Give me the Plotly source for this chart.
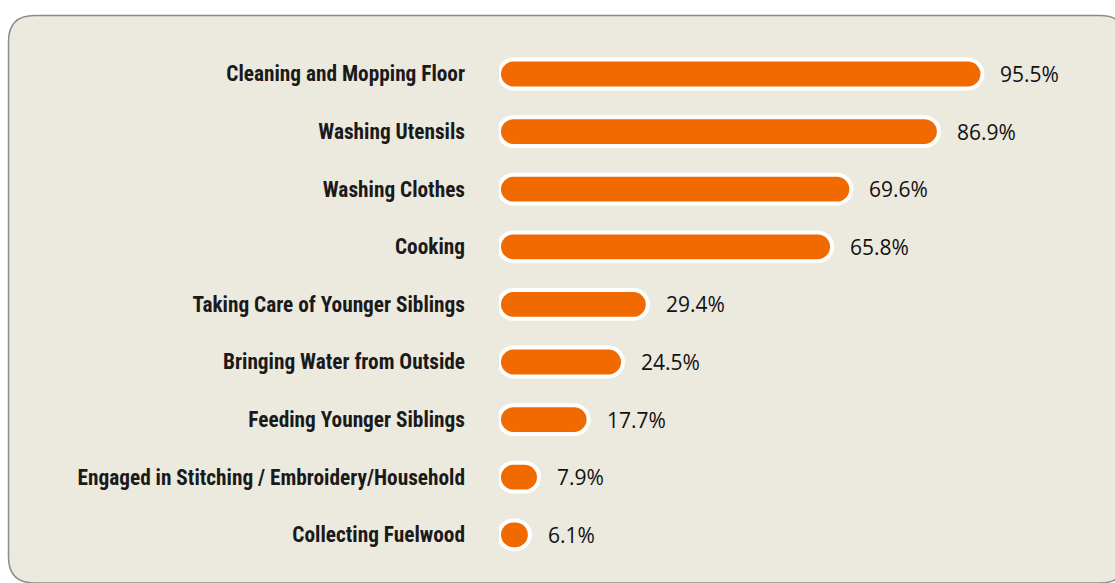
import plotly.graph_objects as go

# Share of girls reporting each household chore (%)
activities = [
    "Cleaning and Mopping Floor",
    "Washing Utensils",
    "Washing Clothes",
    "Cooking",
    "Taking Care of Younger Siblings",
    "Bringing Water from Outside",
    "Feeding Younger Siblings",
    "Engaged in Stitching / Embroidery/Household",
    "Collecting Fuelwood",
]
shares = [95.5, 86.9, 69.6, 65.8, 29.4, 24.5, 17.7, 7.9, 6.1]

ORANGE = "#F06A00"
CARD = "#ECE9DE"
BORDER = "#8C8C8C"
W, H = 1115, 583

fig = go.Figure()

# capsule-shaped bars with a thin white rim
fig.add_trace(go.Bar(
    y=activities,
    x=shares,
    base=[0] * len(shares),
    orientation="h",
    width=0.5,
    marker=dict(color=ORANGE, cornerradius="50%", line=dict(color="white", width=4)),
    hoverinfo="skip",
    showlegend=False,
))

# value labels beside each bar
for name, v in zip(activities, shares):
    fig.add_annotation(
        x=v, y=name, xref="x", yref="y",
        text=f"{v:.1f}%", showarrow=False,
        xanchor="left", xshift=16,
        font=dict(family="Open Sans, Noto Sans, sans-serif", size=21, color="#111111"),
    )

# rounded card behind the chart
def px(x):
    return x / W

def py(y):
    return 1 - y / H

x0, x1, y0, y1, r = 8.5, 1126, 15.5, 583, 26
card_path = (
    f"M {px(x0 + r)},{py(y0)} L {px(x1 - r)},{py(y0)} "
    f"Q {px(x1)},{py(y0)} {px(x1)},{py(y0 + r)} "
    f"L {px(x1)},{py(y1 - r)} Q {px(x1)},{py(y1)} {px(x1 - r)},{py(y1)} "
    f"L {px(x0 + r)},{py(y1)} Q {px(x0)},{py(y1)} {px(x0)},{py(y1 - r)} "
    f"L {px(x0)},{py(y0 + r)} Q {px(x0)},{py(y0)} {px(x0 + r)},{py(y0)} Z"
)
fig.add_shape(
    type="path", path=card_path, xref="paper", yref="paper",
    fillcolor=CARD, line=dict(color=BORDER, width=1.5), layer="below",
)

bar_left = 499
px_per_unit = 5.062
top_px, row_px = 45.2, 57.6

fig.update_layout(
    width=W, height=H,
    margin=dict(l=0, r=0, t=0, b=0),
    paper_bgcolor="white",
    plot_bgcolor="rgba(0,0,0,0)",
    xaxis=dict(
        domain=[bar_left / W, 1],
        range=[0, (W - bar_left) / px_per_unit],
        visible=False,
    ),
    yaxis=dict(
        domain=[1 - (top_px + 9 * row_px) / H, 1 - top_px / H],
        range=[8.5, -0.5],
        automargin=False,
        categoryorder="array",
        categoryarray=activities,
        showgrid=False, zeroline=False, showline=False,
        ticks="", ticklabelstandoff=33,
        tickfont=dict(
            family="Roboto Condensed, Roboto, sans-serif",
            size=21.3, color="#1A1A1A", weight="bold",
        ),
    ),
)

fig.write_html("out.html")
